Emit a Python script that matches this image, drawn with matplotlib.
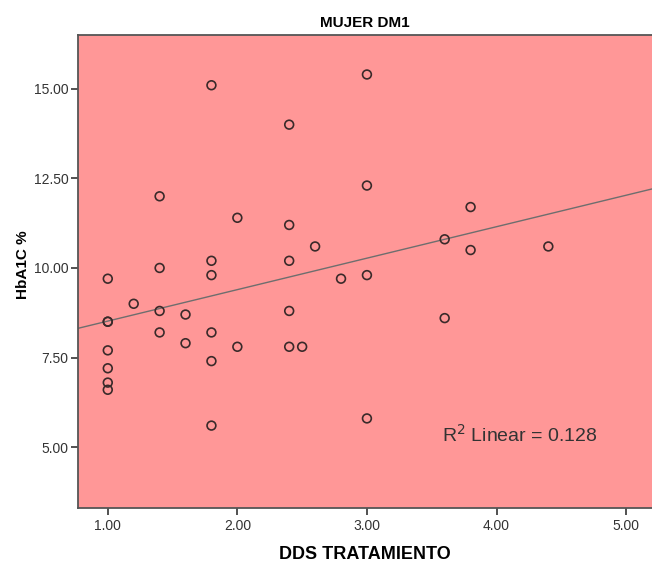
import matplotlib as mpl
mpl.use('Agg')
import matplotlib.pyplot as plt
import numpy as np

plt.rcParams['font.family'] = ['Liberation Sans', 'DejaVu Sans']

# DDS tratamiento vs HbA1C
dds = [1.8, 3.0, 2.4, 1.4, 3.0, 2.0, 3.8, 2.4, 3.6, 4.4, 2.6, 3.8,
       1.8, 2.4, 1.4, 1.8, 3.0, 2.8, 1.0, 1.2, 1.4, 2.4, 1.6, 3.6,
       1.0, 1.0, 1.4, 1.8, 1.6, 2.0, 2.4, 2.5, 1.0, 1.8, 1.0, 1.0,
       1.0, 1.8, 3.0]
hba1c = [15.1, 15.4, 14.0, 12.0, 12.3, 11.4, 11.7, 11.2, 10.8, 10.6, 10.6, 10.5,
         10.2, 10.2, 10.0, 9.8, 9.8, 9.7, 9.7, 9.0, 8.8, 8.8, 8.7, 8.6,
         8.5, 8.5, 8.2, 8.2, 7.9, 7.8, 7.8, 7.8, 7.7, 7.4, 7.2, 6.8,
         6.6, 5.6, 5.8]
xticks = [1.0, 2.0, 3.0, 4.0, 5.0]
yticks = [5.0, 7.5, 10.0, 12.5, 15.0]
r2_text = '0.128'

fig = plt.figure(figsize=(6.52, 5.63), dpi=100)
ax = fig.add_axes([0.1196, 0.0977, 0.8804, 0.840])
ax.set_facecolor('#ff9797')

ax.scatter(dds, hba1c, s=40, facecolors='none', edgecolors='#3a2a2a', linewidths=1.2, zorder=3)

xmin, xmax = 0.77, 5.2
b, a = np.polyfit(dds, hba1c, 1)
xl = np.array([xmin, xmax])
ax.plot(xl, a + b * xl, color='#6e6e6e', lw=1.0, zorder=2)

ax.set_xlim(xmin, xmax)
ax.set_ylim(3.3, 16.5)
ax.set_xticks(xticks)
ax.set_xticklabels(['%.2f' % v for v in xticks])
ax.set_yticks(yticks)
ax.set_yticklabels(['%.2f' % v for v in yticks])
ax.tick_params(labelsize=10, colors='#333333', length=5, width=1.2, labelcolor='#333333', pad=2)
ax.tick_params(axis='x', direction='out', pad=3)

for s in ['left', 'bottom', 'top']:
    ax.spines[s].set_color('#555555')
    ax.spines[s].set_linewidth(1.3)
ax.spines['right'].set_visible(False)

ax.set_title('MUJER DM1', fontsize=11, fontweight='bold', pad=6)
ax.set_xlabel('DDS TRATAMIENTO', fontsize=13, fontweight='bold', labelpad=9)
ax.set_ylabel('HbA1C %', fontsize=11, fontweight='bold')
ax.yaxis.set_label_coords(-0.083, 0.515)

ax.text(3.58, 5.33, r'R$^2$ Linear = ' + r2_text, fontsize=14, color='#333333', va='center')

plt.savefig('out.png', dpi=100)
